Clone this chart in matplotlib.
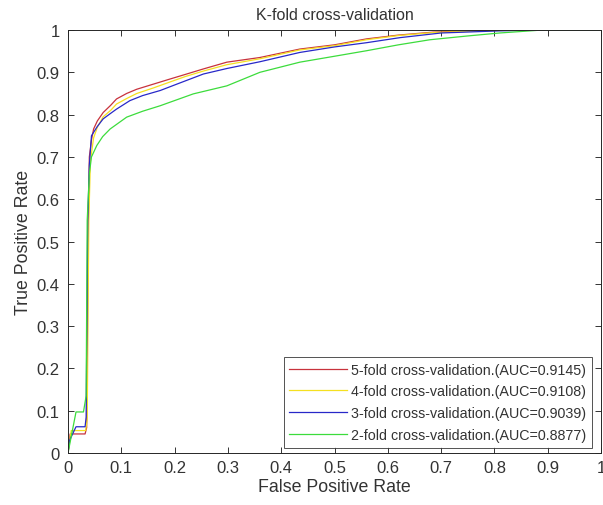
import matplotlib
matplotlib.use("Agg")
import matplotlib.pyplot as plt
from matplotlib.ticker import FormatStrFormatter, MultipleLocator

plt.rcParams['font.family'] = ['Liberation Sans', 'DejaVu Sans']

fpr5 = [0, 0.004, 0.032, 0.035, 0.038, 0.040, 0.044, 0.048, 0.055, 0.066, 0.08, 0.091, 0.11, 0.129, 0.16, 0.191, 0.22, 0.254, 0.298, 0.36, 0.435, 0.5, 0.56, 0.62, 0.685, 0.75, 0.81, 0.87, 0.9, 1.0]
tpr5 = [0, 0.045, 0.045, 0.06, 0.55, 0.70, 0.74, 0.766, 0.785, 0.805, 0.822, 0.837, 0.85, 0.86, 0.872, 0.884, 0.895, 0.908, 0.924, 0.935, 0.955, 0.965, 0.979, 0.988, 0.995, 0.998, 1.0, 1.0, 1.0, 1.0]

fpr4 = [0, 0.006, 0.033, 0.036, 0.039, 0.042, 0.048, 0.055, 0.066, 0.08, 0.091, 0.11, 0.129, 0.16, 0.191, 0.22, 0.254, 0.298, 0.36, 0.435, 0.5, 0.56, 0.62, 0.685, 0.75, 0.81, 0.88, 1.0]
tpr4 = [0, 0.053, 0.053, 0.08, 0.55, 0.69, 0.745, 0.77, 0.795, 0.81, 0.825, 0.838, 0.85, 0.863, 0.877, 0.89, 0.903, 0.918, 0.932, 0.953, 0.963, 0.977, 0.987, 0.994, 0.997, 0.999, 1.0, 1.0]

fpr3 = [0, 0.003, 0.015, 0.032, 0.034, 0.037, 0.040, 0.044, 0.055, 0.066, 0.08, 0.091, 0.116, 0.14, 0.173, 0.204, 0.254, 0.298, 0.36, 0.435, 0.5, 0.56, 0.623, 0.70, 0.81, 0.89, 1.0]
tpr3 = [0, 0.03, 0.062, 0.062, 0.085, 0.55, 0.68, 0.75, 0.772, 0.79, 0.803, 0.813, 0.833, 0.845, 0.857, 0.872, 0.896, 0.909, 0.925, 0.947, 0.96, 0.97, 0.982, 0.993, 0.998, 1.0, 1.0]

fpr2 = [0, 0.015, 0.029, 0.034, 0.036, 0.040, 0.044, 0.054, 0.065, 0.079, 0.11, 0.14, 0.173, 0.235, 0.298, 0.329, 0.36, 0.435, 0.5, 0.56, 0.62, 0.679, 0.75, 0.81, 0.89, 1.0]
tpr2 = [0, 0.097, 0.097, 0.135, 0.55, 0.66, 0.70, 0.727, 0.748, 0.766, 0.794, 0.808, 0.821, 0.849, 0.868, 0.884, 0.9, 0.924, 0.938, 0.951, 0.965, 0.977, 0.986, 0.993, 1.0, 1.0]

labels = ['5-fold cross-validation.(AUC=0.9145)',
          '4-fold cross-validation.(AUC=0.9108)',
          '3-fold cross-validation.(AUC=0.9039)',
          '2-fold cross-validation.(AUC=0.8877)']
colors = ['#c8323c', '#f5e020', '#2828c8', '#3cdc3c']

txt = '#333333'
fig = plt.figure(figsize=(6.03, 5.06), dpi=100)
ax = fig.add_axes([0.1128, 0.1028, 0.8839, 0.8359])

for f, t, lab, c in zip([fpr5, fpr4, fpr3, fpr2], [tpr5, tpr4, tpr3, tpr2], labels, colors):
    ax.plot(f, t, color=c, lw=0.9, label=lab)

ax.set_xlim(0, 1)
ax.set_ylim(0, 1)
ax.xaxis.set_major_locator(MultipleLocator(0.1))
ax.yaxis.set_major_locator(MultipleLocator(0.1))
ax.xaxis.set_major_formatter(FormatStrFormatter('%g'))
ax.yaxis.set_major_formatter(FormatStrFormatter('%g'))
ax.tick_params(direction='in', top=True, right=True, length=4, width=0.7,
               labelsize=12, colors=txt)
ax.tick_params(axis='x', pad=5)
ax.tick_params(axis='y', pad=6)
for s in ax.spines.values():
    s.set_linewidth(0.7)
    s.set_color('#262626')

ax.set_xlabel('False Positive Rate', fontsize=12.8, color=txt, labelpad=2)
ax.set_ylabel('True Positive Rate', fontsize=12.8, color=txt, labelpad=3)
ax.set_title('K-fold cross-validation', fontsize=11.5, color=txt, pad=8)

leg = ax.legend(loc='lower right', bbox_to_anchor=(0.983, 0.012), fontsize=10.3,
                frameon=True, fancybox=False, edgecolor='#262626',
                handlelength=4.0, handletextpad=0.3, borderpad=0.4,
                labelspacing=0.55, borderaxespad=0.0)
leg.get_frame().set_linewidth(0.7)
for t in leg.get_texts():
    t.set_color(txt)

fig.savefig('out.png', dpi=100)
